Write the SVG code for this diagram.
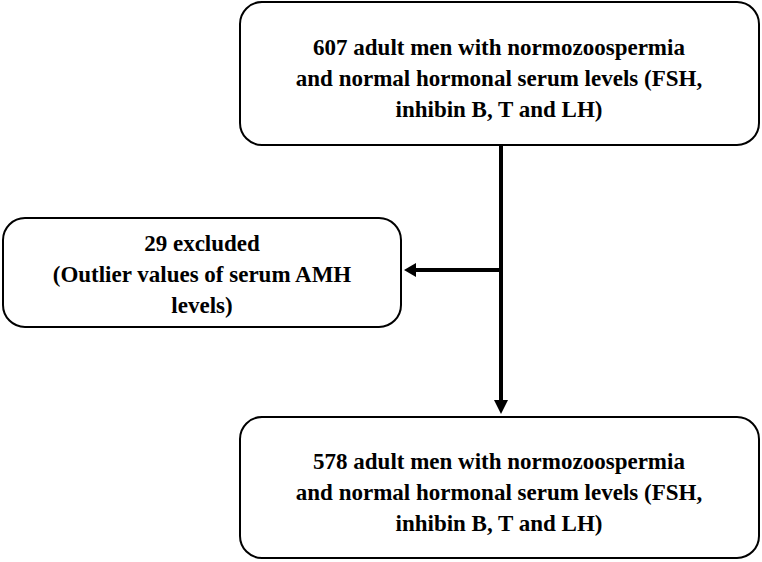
<svg xmlns="http://www.w3.org/2000/svg" width="762" height="562" viewBox="0 0 762 562">
<style>
.box{fill:#fff;stroke:#000;stroke-width:2}
.t{font-family:"Liberation Serif",serif;font-weight:bold;font-size:23px;text-anchor:middle;fill:#000}
.c{stroke:#000;stroke-width:4;fill:none}
</style>
<rect width="762" height="562" fill="#fff"/>
<g id="top"><rect class="box" x="240" y="2" width="519" height="143" rx="22"/>
<text class="t" x="499" y="55">607 adult men with normozoospermia</text>
<text class="t" x="499" y="86">and normal hormonal serum levels (FSH,</text>
<text class="t" x="499" y="117">inhibin B, T and LH)</text></g>
<g id="excluded"><rect class="box" x="3" y="218" width="398" height="109" rx="22"/>
<text class="t" x="202" y="251">29 excluded</text>
<text class="t" x="202" y="282">(Outlier values of serum AMH</text>
<text class="t" x="202" y="313">levels)</text></g>
<g id="bottom"><rect class="box" x="240" y="417" width="519" height="141" rx="22"/>
<text class="t" x="499" y="469">578 adult men with normozoospermia</text>
<text class="t" x="499" y="500">and normal hormonal serum levels (FSH,</text>
<text class="t" x="499" y="531">inhibin B, T and LH)</text></g>
<g id="connectors">
<line class="c" x1="501" y1="145" x2="501" y2="400"/>
<polygon points="494,400 508,400 501,414" fill="#000"/>
<line class="c" x1="501" y1="270" x2="416" y2="270"/>
<polygon points="416,263 416,277 404,270" fill="#000"/>
</g>
</svg>
